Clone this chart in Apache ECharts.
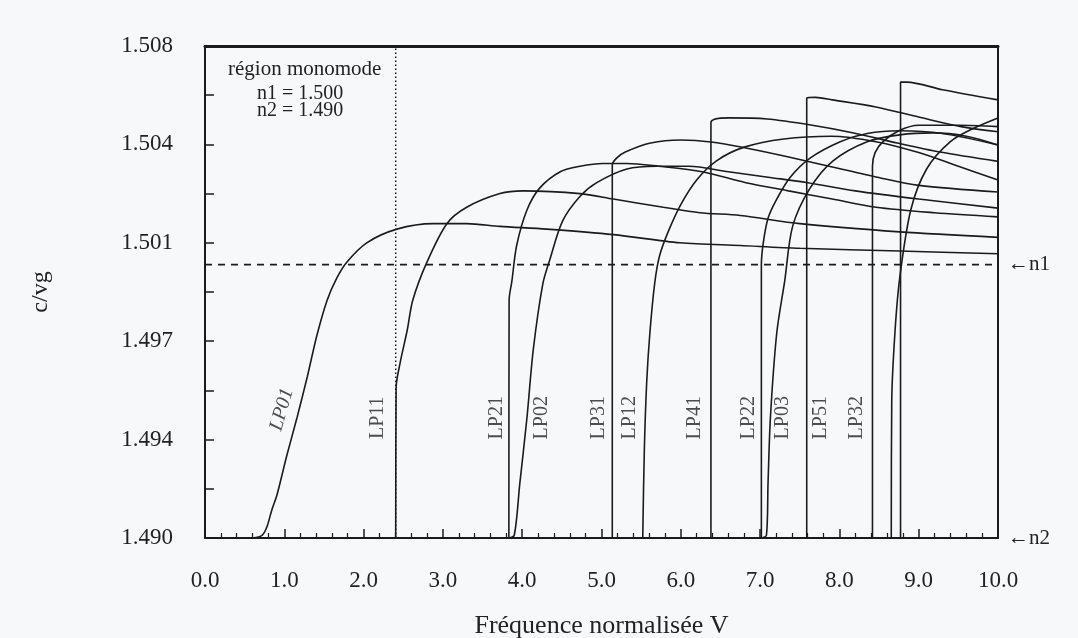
<!DOCTYPE html>
<html><head><meta charset="utf-8">
<script src="https://cdn.jsdelivr.net/npm/echarts@6/dist/echarts.min.js"></script>
<style>html,body{margin:0;padding:0;background:#f6f8fa}#c{width:1078px;height:638px}</style>
</head><body><div id="c"></div>
<script>
// ---- axis ticks ----
const yLabelValues = [1.490, 1.4936, 1.4972, 1.5008, 1.5044, 1.508];
const yTickValues = [1.490, 1.4918, 1.4936, 1.4954, 1.4972, 1.4990, 1.5008, 1.5026, 1.5044, 1.5062, 1.508];
const xMin = 0, xMax = 10, yMin = 1.490, yMax = 1.508;
const n1 = 1.500, n2 = 1.490, vSingleMode = 2.405;

// ---- curves [V, c/vg] ----
const LP01 = [[0.60,1.4900],[0.72,1.4901],[0.78,1.4904],[0.84,1.4910],[0.91,1.4916],[1.03,1.4930],[1.16,1.4944],[1.29,1.4959],[1.41,1.4974],[1.54,1.4987],[1.66,1.4995],[1.79,1.5001],[2.04,1.5008],[2.42,1.5013],[2.88,1.5015],[3.30,1.5015],[3.72,1.5014],[4.31,1.5013],[5.15,1.5011],[5.99,1.5008],[6.75,1.5007],[7.50,1.5006],[8.76,1.5005],[10.0,1.5004]];
const LP11 = [[2.405,1.4900],[2.41,1.4955],[2.46,1.4964],[2.55,1.4976],[2.62,1.4987],[2.80,1.5001],[3.05,1.5015],[3.30,1.5021],[3.72,1.5026],[4.01,1.5027],[4.73,1.5026],[5.15,1.5024],[5.78,1.5021],[6.24,1.5019],[6.75,1.5018],[7.50,1.5015],[8.76,1.5012],[10.0,1.5010]];
const LP21 = [[3.832,1.4900],[3.835,1.4987],[3.87,1.4994],[3.93,1.5007],[4.06,1.5020],[4.22,1.5028],[4.48,1.5034],[4.73,1.5036],[5.02,1.5037],[5.32,1.5037],[5.72,1.5036],[6.27,1.5034],[6.82,1.5030],[7.36,1.5027],[7.91,1.5024],[8.46,1.5021],[9.20,1.5019],[10.0,1.50175]];
const LP02 = [[3.832,1.4900],[3.90,1.4901],[3.97,1.4920],[4.06,1.4944],[4.14,1.4969],[4.26,1.4993],[4.35,1.5002],[4.51,1.5016],[4.73,1.5025],[4.94,1.5030],[5.32,1.5035],[5.70,1.5036],[6.10,1.5036],[6.60,1.5034],[7.10,1.5032],[7.60,1.5030],[8.20,1.5027],[9.00,1.5024],[10.0,1.50207]];
const LP31 = [[5.136,1.4900],[5.136,1.50365],[5.19,1.5039],[5.30,1.50412],[5.62,1.50445],[6.00,1.50456],[6.38,1.50449],[6.82,1.50427],[7.36,1.50394],[7.91,1.50357],[8.46,1.50321],[9.00,1.50290],[10.0,1.50266]];
const LP12 = [[5.520,1.4900],[5.54,1.4932],[5.57,1.4957],[5.61,1.4975],[5.67,1.4993],[5.73,1.5003],[5.84,1.5012],[6.00,1.5022],[6.20,1.5031],[6.45,1.5038],[6.80,1.5043],[7.30,1.5046],[7.90,1.5047],[8.46,1.5045],[9.00,1.5041],[9.50,1.5036],[10.0,1.5031]];
const LP41 = [[6.380,1.4900],[6.380,1.5052],[6.60,1.50537],[7.09,1.50533],[7.64,1.50511],[8.18,1.50482],[8.73,1.50445],[9.27,1.50412],[10.0,1.50378]];
const LP22 = [[7.016,1.4900],[7.016,1.5000],[7.04,1.5008],[7.10,1.5017],[7.21,1.5024],[7.38,1.5032],[7.63,1.5039],[8.01,1.5045],[8.35,1.5048],[8.76,1.5049],[9.30,1.5048],[10.0,1.50438]];
const LP03 = [[7.016,1.4900],[7.08,1.4901],[7.10,1.4920],[7.13,1.4944],[7.21,1.4975],[7.31,1.4994],[7.41,1.5014],[7.63,1.5028],[7.92,1.5038],[8.35,1.5045],[8.76,1.50475],[9.18,1.50482],[9.60,1.5047],[10.0,1.50438]];
const LP51 = [[7.588,1.4900],[7.588,1.5061],[7.70,1.50612],[7.91,1.50603],[8.46,1.50577],[9.00,1.5054],[9.55,1.50504],[10.0,1.50486]];
const LP32 = [[8.417,1.4900],[8.417,1.5036],[8.45,1.5041],[8.55,1.5045],[8.75,1.5049],[9.00,1.5051],[9.50,1.5051],[10.0,1.50505]];
const LP13 = [[8.654,1.4900],[8.66,1.4950],[8.70,1.4975],[8.76,1.4995],[8.90,1.5020],[9.10,1.5035],[9.40,1.5045],[9.70,1.5050],[10.0,1.50537]];
const LP61 = [[8.771,1.4900],[8.771,1.50668],[8.85,1.50668],[9.30,1.5064],[10.0,1.50603]];

// ---- mode labels ----
const modeNames = ['LP01','LP11','LP21','LP02','LP31','LP12','LP41','LP22','LP03','LP51','LP32'];
const labelV    = [0.97, 2.18, 3.68, 4.25, 4.96, 5.36, 6.17, 6.86, 7.29, 7.76, 8.22];
const labelY    = [1.4947, 1.4944, 1.4944, 1.4944, 1.4944, 1.4944, 1.4944, 1.4944, 1.4944, 1.4944, 1.4944];
const labelRot  = [74, 90, 90, 90, 90, 90, 90, 90, 90, 90, 90];

const curves = {LP01, LP11, LP21, LP02, LP31, LP12, LP41, LP22, LP03, LP51, LP32, LP13, LP61};

const FONT = 'Liberation Serif';
const INK = '#1b1b1b';
const chart = echarts.init(document.getElementById('c'), null, {renderer: 'canvas'});

const curveSeries = Object.keys(curves).map(k => ({
  name: k, type: 'line', data: curves[k], showSymbol: false, smooth: 0.3,
  lineStyle: {color: INK, width: 1.6}, z: 3, silent: true
}));

chart.setOption({
  backgroundColor: '#f6f8fa',
  animation: false,
  grid: {left: 205, right: 80, top: 46, bottom: 100, outerBoundsMode: 'none', containLabel: false},
  xAxis: [{
    type: 'value', min: xMin, max: xMax, interval: 1,
    axisLine: {lineStyle: {color: INK, width: 2}},
    axisTick: {inside: true, length: 9, lineStyle: {color: INK, width: 1.5}},
    minorTick: {show: true, splitNumber: 5, length: 5, lineStyle: {color: INK, width: 1.2}},
    axisLabel: {formatter: v => v.toFixed(1), fontFamily: FONT, fontSize: 23, color: '#222', margin: 31},
    splitLine: {show: false},
    name: 'Fréquence normalisée V', nameLocation: 'middle', nameGap: 75,
    nameTextStyle: {fontFamily: FONT, fontSize: 26, color: '#222'}
  }, {
    type: 'value', min: xMin, max: xMax, position: 'top',
    axisLine: {show: true, onZero: false, lineStyle: {color: INK, width: 3}},
    axisTick: {show: false}, axisLabel: {show: false}, splitLine: {show: false}
  }],
  yAxis: [{
    type: 'value', min: yMin, max: yMax,
    axisLine: {show: true, lineStyle: {color: INK, width: 2}},
    axisTick: {show: true, inside: true, length: 9, customValues: yTickValues, lineStyle: {color: INK, width: 1.5}},
    axisLabel: {customValues: yLabelValues, formatter: v => v.toFixed(3), fontFamily: FONT, fontSize: 23, color: '#222', margin: 32},
    splitLine: {show: false},
    name: 'c/vg', nameLocation: 'middle', nameGap: 152,
    nameTextStyle: {fontFamily: FONT, fontSize: 24, color: '#222'}
  }, {
    type: 'value', min: yMin, max: yMax, position: 'right',
    axisLine: {show: true, onZero: false, lineStyle: {color: INK, width: 2}},
    axisTick: {show: false}, axisLabel: {show: false}, splitLine: {show: false}
  }],
  graphic: [{
    type: 'text', left: 228, top: 59,
    style: {text: 'région monomode', font: '21px "Liberation Serif"', fill: '#222'}
  }, {
    type: 'text', left: 257, top: 84,
    style: {text: 'n1 = 1.500\nn2 = 1.490', font: '20px "Liberation Serif"', lineHeight: 17, fill: '#222'}
  }],
  series: [
    ...curveSeries,
    {
      name: 'n1', type: 'line', data: [[xMin, n1], [xMax, n1]], showSymbol: false, silent: true,
      lineStyle: {color: INK, width: 1.6, type: [7, 6]}, z: 2,
      endLabel: {show: true, formatter: '←n1', fontFamily: FONT, fontSize: 21, color: '#222', distance: 10}
    },
    {
      name: 'n2', type: 'line', data: [[xMin, n2], [xMax, n2]], showSymbol: false, silent: true,
      lineStyle: {width: 0, opacity: 0}, z: 2,
      endLabel: {show: true, formatter: '←n2', fontFamily: FONT, fontSize: 21, color: '#222', distance: 10}
    },
    {
      name: 'monomode', type: 'line', data: [[vSingleMode, yMin], [vSingleMode, yMax]], showSymbol: false, silent: true,
      lineStyle: {color: INK, width: 1.5, type: [1.5, 2.5]}, z: 2
    },
    {
      name: 'labels', type: 'scatter', symbolSize: 0, silent: true, z: 5,
      data: modeNames.map((n, i) => ({
        name: n, value: [labelV[i], labelY[i]],
        label: {rotate: labelRot[i], fontStyle: i === 0 ? 'italic' : 'normal'}
      })),
      label: {show: true, position: 'inside', formatter: p => p.name, fontFamily: FONT, fontSize: 20, color: '#222'}
    }
  ]
});
</script>
</body></html>
